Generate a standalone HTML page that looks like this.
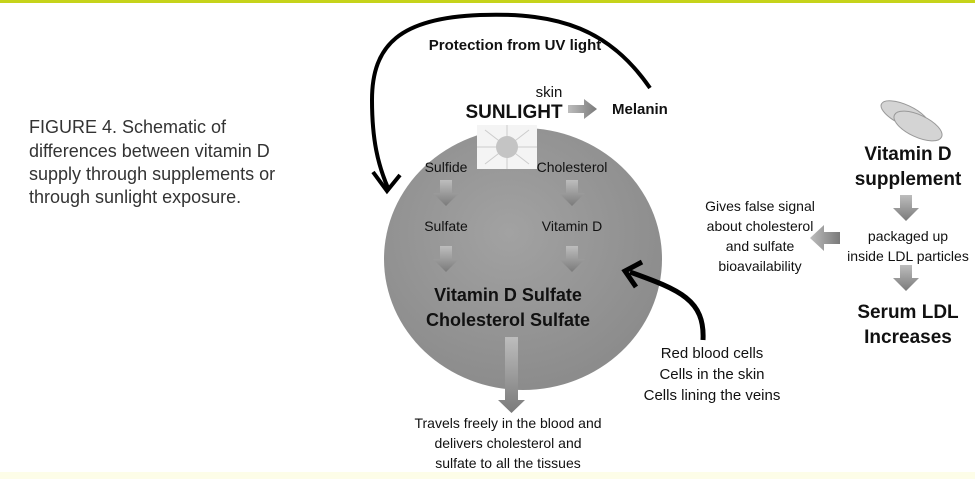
<!DOCTYPE html>
<html><head><meta charset="utf-8"><style>
body{margin:0;background:#fff}
svg{display:block}
text{font-family:"Liberation Sans",sans-serif;fill:#111}
</style></head><body>
<svg width="975" height="479" viewBox="0 0 975 479" xmlns="http://www.w3.org/2000/svg">
<defs>
<radialGradient id="cg" cx="0.45" cy="0.4" r="0.65">
<stop offset="0" stop-color="#a2a2a2"/><stop offset="1" stop-color="#8a8a8a"/>
</radialGradient>
<linearGradient id="ag" x1="0" y1="0" x2="0" y2="1">
<stop offset="0" stop-color="#bdbdbd"/><stop offset="1" stop-color="#7a7a7a"/>
</linearGradient>
<linearGradient id="ah" x1="0" y1="0" x2="1" y2="0">
<stop offset="0" stop-color="#bdbdbd"/><stop offset="1" stop-color="#7a7a7a"/>
</linearGradient>
<g id="da"><path d="M-6,0 h12 v13 h7 l-13,13 l-13,-13 h7 z" fill="url(#ag)"/></g>
</defs>
<rect x="0" y="0" width="975" height="3" fill="#c6d31a"/>
<rect x="0" y="472" width="975" height="7" fill="#fdfde8"/>
<text font-size="18" style="fill:#333">
<tspan x="29" y="133">FIGURE 4. Schematic of</tspan>
<tspan x="29" y="157">differences between vitamin D</tspan>
<tspan x="29" y="180">supply through supplements or</tspan>
<tspan x="29" y="203">through sunlight exposure.</tspan>
</text>
<ellipse cx="523" cy="259" rx="139" ry="131" fill="url(#cg)"/>
<rect x="477" y="125" width="60" height="44" fill="#f4f4f4"/>
<g stroke="#ccc" stroke-width="1">
<line x1="507" y1="125" x2="507" y2="169"/><line x1="477" y1="147" x2="537" y2="147"/>
<line x1="485" y1="130" x2="529" y2="164"/><line x1="485" y1="164" x2="529" y2="130"/>
</g>
<circle cx="507" cy="147" r="11" fill="#c4c4c4"/>
<path d="M650,88 C610,30 560,12 480,15 C400,18 372,45 372,100 C372,140 378,165 388,188" fill="none" stroke="#000" stroke-width="4"/>
<path d="M373,172 L387,191 L400,175" fill="none" stroke="#000" stroke-width="4"/>
<text font-size="15" font-weight="bold" x="515" y="50" text-anchor="middle">Protection from UV light</text>
<text font-size="15" x="549" y="97" text-anchor="middle">skin</text>
<text font-size="19" font-weight="bold" x="514" y="118" text-anchor="middle">SUNLIGHT</text>
<path d="M568,105 h16 v-6 l13,10 l-13,10 v-6 h-16 z" fill="url(#ah)"/>
<text font-size="15" font-weight="bold" x="612" y="114">Melanin</text>
<text font-size="14" x="446" y="172" text-anchor="middle">Sulfide</text>
<text font-size="14" x="572" y="172" text-anchor="middle">Cholesterol</text>
<use href="#da" x="446" y="180"/><use href="#da" x="572" y="180"/>
<text font-size="14" x="446" y="231" text-anchor="middle">Sulfate</text>
<text font-size="14" x="572" y="231" text-anchor="middle">Vitamin D</text>
<use href="#da" x="446" y="246"/><use href="#da" x="572" y="246"/>
<text font-size="18" font-weight="bold" x="508" y="301" text-anchor="middle">Vitamin D Sulfate</text>
<text font-size="18" font-weight="bold" x="508" y="326" text-anchor="middle">Cholesterol Sulfate</text>
<path d="M505,337 h13 v63 h7 l-13.5,13 l-13.5,-13 h7 z" fill="url(#ag)"/>
<text font-size="14" x="508" y="428" text-anchor="middle">Travels freely in the blood and</text>
<text font-size="14" x="508" y="448" text-anchor="middle">delivers cholesterol and</text>
<text font-size="14" x="508" y="468" text-anchor="middle">sulfate to all the tissues</text>
<path d="M703,340 C705,300 680,290 630,272" fill="none" stroke="#000" stroke-width="5"/>
<path d="M642,262 L625,271 L636,287" fill="none" stroke="#000" stroke-width="5"/>
<text font-size="15" x="712" y="358" text-anchor="middle">Red blood cells</text>
<text font-size="15" x="712" y="379" text-anchor="middle">Cells in the skin</text>
<text font-size="15" x="712" y="400" text-anchor="middle">Cells lining the veins</text>
<g fill="#d4d4d4" stroke="#999" stroke-width="1">
<ellipse cx="905" cy="115" rx="26" ry="10" transform="rotate(25 905 115)"/>
<ellipse cx="918" cy="126" rx="26" ry="11" transform="rotate(25 918 126)"/>
</g>
<text font-size="19" font-weight="bold" x="908" y="160" text-anchor="middle">Vitamin D</text>
<text font-size="19" font-weight="bold" x="908" y="185" text-anchor="middle">supplement</text>
<use href="#da" x="906" y="195"/>
<text font-size="14" x="908" y="241" text-anchor="middle">packaged up</text>
<text font-size="14" x="908" y="261" text-anchor="middle">inside LDL particles</text>
<use href="#da" x="906" y="265"/>
<text font-size="19" font-weight="bold" x="908" y="318" text-anchor="middle">Serum LDL</text>
<text font-size="19" font-weight="bold" x="908" y="343" text-anchor="middle">Increases</text>
<path d="M840,232 h-16 v-7 l-14,13 l14,13 v-7 h16 z" fill="url(#ah)"/>
<text font-size="14" x="760" y="211" text-anchor="middle">Gives false signal</text>
<text font-size="14" x="760" y="231" text-anchor="middle">about cholesterol</text>
<text font-size="14" x="760" y="251" text-anchor="middle">and sulfate</text>
<text font-size="14" x="760" y="271" text-anchor="middle">bioavailability</text>
</svg>
</body></html>
